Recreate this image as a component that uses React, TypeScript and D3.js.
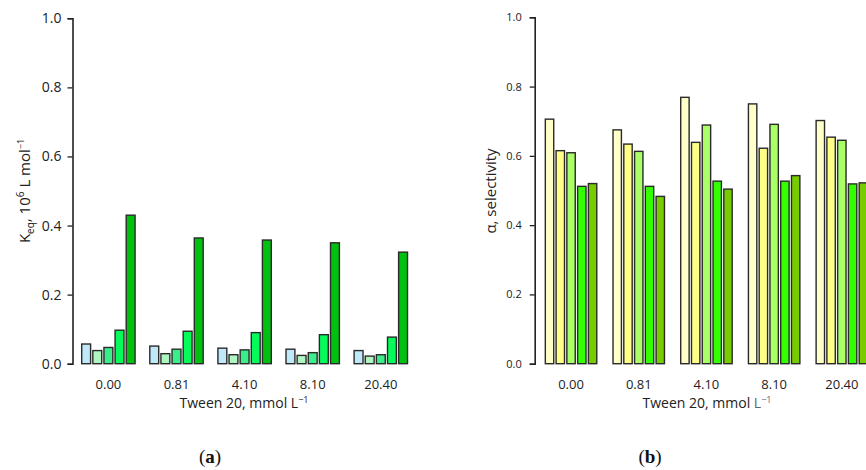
import React, { useEffect, useRef } from 'react';
import * as d3 from 'd3';

const categories = ['0.00', '0.81', '4.10', '8.10', '20.40'];
const yTicks = [0, 0.2, 0.4, 0.6, 0.8, 1.0];

// panel (a): Keq, five series per Tween 20 concentration
const keqS1 = [0.057, 0.051, 0.045, 0.042, 0.038];
const keqS2 = [0.038, 0.029, 0.026, 0.024, 0.022];
const keqS3 = [0.047, 0.042, 0.040, 0.032, 0.026];
const keqS4 = [0.097, 0.094, 0.090, 0.084, 0.077];
const keqS5 = [0.430, 0.364, 0.358, 0.350, 0.323];
const keqColors = ['#bfe9f9', '#aef5c2', '#3aee8a', '#05fb5a', '#00c010'];

// panel (b): selectivity
const selS1 = [0.706, 0.675, 0.769, 0.750, 0.702];
const selS2 = [0.615, 0.634, 0.639, 0.622, 0.654];
const selS3 = [0.609, 0.613, 0.689, 0.691, 0.645];
const selS4 = [0.512, 0.512, 0.527, 0.527, 0.519];
const selS5 = [0.520, 0.483, 0.504, 0.543, 0.522];
const selColors = ['#ffffc8', '#ffff88', '#aaff66', '#33ff00', '#77cc00'];

const FONT = '"Open Sans", "Noto Sans", sans-serif';

const App = () => {
  const svgRef = useRef(null);

  useEffect(() => {
    const svg = d3.select(svgRef.current);
    svg.selectAll('*').remove();

    const drawPanel = (opt) => {
      const g = svg.append('g');
      const x0 = d3.scaleBand()
        .domain(categories)
        .range([opt.left, opt.right])
        .paddingInner(opt.padInner)
        .paddingOuter(opt.padOuter);
      const x1 = d3.scaleBand()
        .domain(d3.range(5))
        .range([0, x0.bandwidth()])
        .paddingInner(opt.barPad);
      const y = d3.scaleLinear().domain([0, 1]).range([opt.bottom, opt.top]);

      categories.forEach((c, i) => {
        opt.series.forEach((s, j) => {
          g.append('rect')
            .attr('x', x0(c) + x1(j))
            .attr('y', y(s[i]))
            .attr('width', x1.bandwidth())
            .attr('height', y(0) - y(s[i]))
            .style('fill', opt.colors[j])
            .style('stroke', '#2a2a2a')
            .style('stroke-width', 1.4);
        });
        g.append('text')
          .attr('x', x0(c) + x0.bandwidth() / 2)
          .attr('y', opt.bottom + 25)
          .attr('text-anchor', 'middle')
          .style('font-family', FONT)
          .style('font-size', '13px')
          .style('fill', '#222')
          .text(c);
      });

      const axis = g.append('g')
        .attr('transform', `translate(${opt.left},0)`)
        .call(d3.axisLeft(y).tickValues(yTicks).tickFormat(d3.format('.1f')).tickSizeOuter(0).tickSize(5).tickPadding(opt.tickPad));
      axis.select('.domain').style('stroke', '#222').style('stroke-width', 1.6);
      axis.selectAll('line').style('stroke', '#222').style('stroke-width', 1.3);
      axis.selectAll('text')
        .style('font-family', FONT)
        .style('font-size', opt.tickFont)
        .style('fill', '#222');
      return g;
    };

    const ga = drawPanel({
      left: 72.5, right: 416.7, top: 18.3, bottom: 363.7,
      padInner: 0.216, padOuter: 0.135, barPad: 0.2,
      series: [keqS1, keqS2, keqS3, keqS4, keqS5], colors: keqColors,
      tickFont: '14px', tickPad: 6
    });
    const gb = drawPanel({
      left: 534.7, right: 878.2, top: 17.3, bottom: 363.7,
      padInner: 0.24, padOuter: 0.157, barPad: 0.22,
      series: [selS1, selS2, selS3, selS4, selS5], colors: selColors,
      tickFont: '11px', tickPad: 8
    });

    // x titles
    const xa = ga.append('text')
      .attr('x', 244).attr('y', 408)
      .attr('text-anchor', 'middle')
      .style('font-family', FONT).style('font-size', '14px').style('fill', '#222');
    xa.append('tspan').text('Tween 20, mmol L');
    xa.append('tspan').attr('dy', -5).style('font-size', '9px').text('\u22121');

    const xb = gb.append('text')
      .attr('x', 707).attr('y', 408)
      .attr('text-anchor', 'middle')
      .style('font-family', FONT).style('font-size', '14px').style('fill', '#222');
    xb.append('tspan').text('Tween 20, mmol ');
    xb.append('tspan').style('fill', '#5a6470').text('L');
    xb.append('tspan').attr('dy', -5).style('font-size', '9px').style('fill', '#5a6470').text('\u22121');

    // y titles
    const ya = ga.append('text')
      .attr('transform', 'translate(30,191) rotate(-90)')
      .attr('text-anchor', 'middle')
      .style('font-family', FONT).style('font-size', '15px').style('fill', '#222');
    ya.append('tspan').text('K');
    ya.append('tspan').attr('dy', 4).style('font-size', '10px').text('eq');
    ya.append('tspan').attr('dy', -4).text(', 10');
    ya.append('tspan').attr('dy', -6).style('font-size', '10px').text('6');
    ya.append('tspan').attr('dy', 6).text(' L mol');
    ya.append('tspan').attr('dy', -6).style('font-size', '9px').text('\u22121');

    gb.append('text')
      .attr('transform', 'translate(496,191) rotate(-90)')
      .attr('text-anchor', 'middle')
      .style('font-family', FONT).style('font-size', '15px').style('fill', '#222')
      .text('\u03b1, selectivity');

    // panel letters
    [['a', 210], ['b', 650]].forEach(([l, xp]) => {
      const t = svg.append('text')
        .attr('x', xp).attr('y', 463)
        .attr('text-anchor', 'middle')
        .style('font-family', '"Liberation Serif", "DejaVu Serif", serif')
        .style('font-size', '19px').style('fill', '#111');
      t.append('tspan').text('(');
      t.append('tspan').style('font-weight', 'bold').text(l);
      t.append('tspan').text(')');
    });
  }, []);

  return (
    <svg ref={svgRef} width={866} height={470}
      style={{ position: 'absolute', left: 0, top: 0, background: '#fff' }} />
  );
};

export default App;
